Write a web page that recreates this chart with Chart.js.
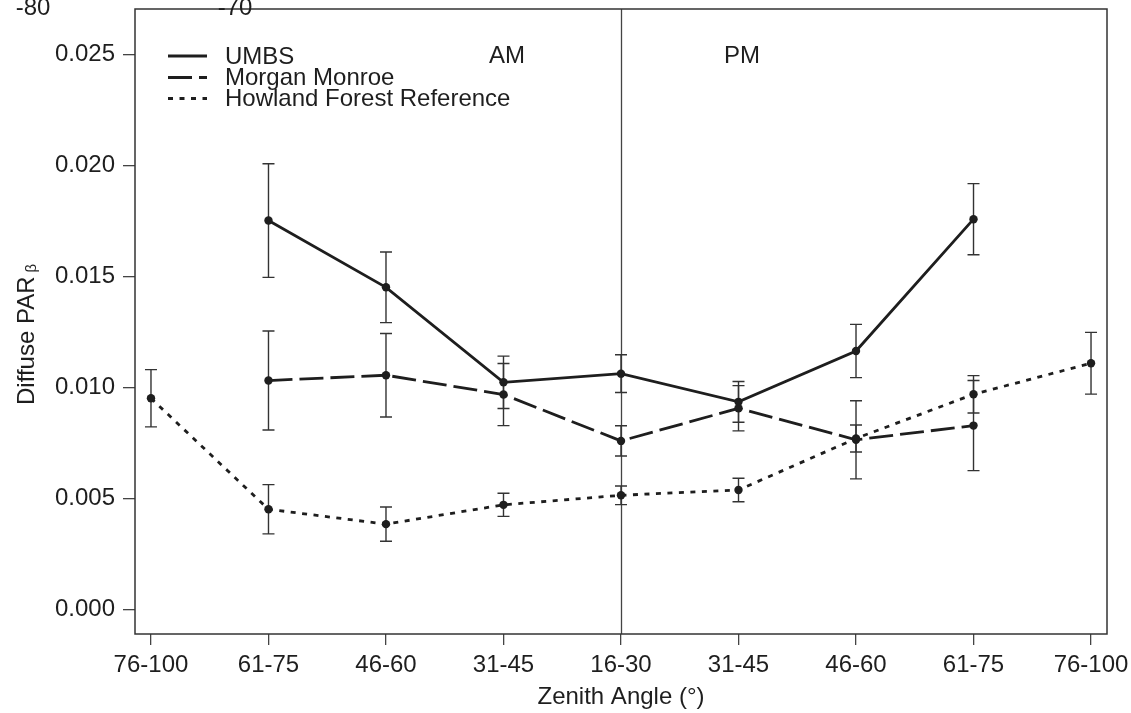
<!DOCTYPE html>
<html>
<head>
<meta charset="utf-8">
<script src="https://cdn.jsdelivr.net/npm/chart.js@4.4.1/dist/chart.umd.min.js"></script>
<style>
  body { margin: 0; background: #fff; }
  canvas { display: block; }
</style>
</head>
<body>
<canvas id="myChart" width="1131" height="713"></canvas>
<script>
// zenith angle classes, morning -> noon -> afternoon
const categories = ['76-100', '61-75', '46-60', '31-45', '16-30', '31-45', '46-60', '61-75', '76-100'];
const yTickValues = [0, 0.005, 0.010, 0.015, 0.020, 0.025];

const umbs       = [null, 0.01753, 0.01452, 0.01024, 0.01063, 0.00936, 0.01165, 0.01759, null];
const umbsErr    = [null, 0.00256, 0.00159, 0.00118, 0.00085, 0.00092, 0.00120, 0.00160, null];
const morgan     = [null, 0.01032, 0.01056, 0.00969, 0.00760, 0.00907, 0.00765, 0.00829, null];
const morganErr  = [null, 0.00223, 0.00188, 0.00140, 0.00068, 0.00102, 0.00176, 0.00203, null];
const howland    = [0.00952, 0.00452, 0.00385, 0.00472, 0.00515, 0.00539, 0.00771, 0.00970, 0.01110];
const howlandErr = [0.00129, 0.00111, 0.00077, 0.00052, 0.00042, 0.00053, 0.00061, 0.00084, 0.00139];

const FONT = '"Liberation Sans", Arial, Helvetica, sans-serif';
const FS = 24;
const INK = '#1e1e1e';

function toPoints(vals, errs) {
  let out = [];
  vals.forEach(function (v, i) {
    if (v !== null) out.push({ x: i, y: v, err: errs[i] });
  });
  return out;
}

function series(label, vals, errs, dash) {
  return {
    label: label,
    data: toPoints(vals, errs),
    borderColor: INK,
    backgroundColor: INK,
    borderWidth: 2.8,
    borderDash: dash,
    borderCapStyle: 'butt',
    pointRadius: 4.2,
    pointHoverRadius: 4.2,
    pointBackgroundColor: INK,
    pointBorderWidth: 0,
    tension: 0,
    fill: false
  };
}

// error bars, AM/PM divider, box, legend and loose labels
const extras = {
  id: 'extras',
  beforeDatasetsDraw: function (chart) {
    const ctx = chart.ctx, xs = chart.scales.x, ys = chart.scales.y, a = chart.chartArea;
    ctx.save();
    // noon divider
    ctx.strokeStyle = '#444';
    ctx.lineWidth = 1.3;
    ctx.beginPath();
    ctx.moveTo(Math.round(xs.getPixelForValue(4)) + 0.5, a.top);
    ctx.lineTo(Math.round(xs.getPixelForValue(4)) + 0.5, a.bottom);
    ctx.stroke();
    // error bars
    ctx.strokeStyle = '#333';
    ctx.lineWidth = 1.4;
    chart.data.datasets.forEach(function (ds) {
      ds.data.forEach(function (p) {
        const px = xs.getPixelForValue(p.x);
        const top = ys.getPixelForValue(p.y + p.err);
        const bot = ys.getPixelForValue(p.y - p.err);
        ctx.beginPath();
        ctx.moveTo(px, top); ctx.lineTo(px, bot);
        ctx.moveTo(px - 6, top); ctx.lineTo(px + 6, top);
        ctx.moveTo(px - 6, bot); ctx.lineTo(px + 6, bot);
        ctx.stroke();
      });
    });
    ctx.restore();
  },
  afterDraw: function (chart) {
    const ctx = chart.ctx, a = chart.chartArea;
    ctx.save();
    // plot box
    ctx.strokeStyle = '#333';
    ctx.lineWidth = 1.5;
    ctx.strokeRect(a.left, a.top, a.right - a.left, a.bottom - a.top);

    ctx.fillStyle = INK;
    ctx.font = FS + 'px ' + FONT;
    ctx.textBaseline = 'middle';
    ctx.textAlign = 'center';
    ctx.fillText('AM', 507, 56);
    ctx.fillText('PM', 742, 56);

    // stray labels clipped at the top edge
    ctx.textBaseline = 'alphabetic';
    ctx.fillText('-80', 33, 15);
    ctx.fillText('-70', 235, 15);

    // legend
    const rows = [56, 77.5, 98.5];
    ctx.textAlign = 'left';
    ctx.textBaseline = 'middle';
    chart.data.datasets.forEach(function (ds, i) {
      ctx.strokeStyle = INK;
      ctx.lineWidth = 2.8;
      ctx.lineCap = 'butt';
      ctx.setLineDash(ds.borderDash || []);
      ctx.beginPath();
      ctx.moveTo(168, rows[i]);
      ctx.lineTo(207, rows[i]);
      ctx.stroke();
      ctx.setLineDash([]);
      ctx.fillText(ds.label, 225, rows[i] + 1);
    });

    // y title with subscript beta
    ctx.translate(27, 405);
    ctx.rotate(-Math.PI / 2);
    ctx.textAlign = 'left';
    ctx.textBaseline = 'middle';
    ctx.font = FS + 'px ' + FONT;
    ctx.fillText('Diffuse PAR', 0, 0);
    const w = ctx.measureText('Diffuse PAR').width;
    ctx.font = '15px ' + FONT;
    ctx.fillText('\u03B2', w + 4, 5);
    ctx.restore();
  }
};

const ctx = document.getElementById('myChart').getContext('2d');
const myChart = new Chart(ctx, {
  type: 'line',
  data: {
    datasets: [
      series('UMBS', umbs, umbsErr, []),
      series('Morgan Monroe', morgan, morganErr, [24, 7]),
      series('Howland Forest Reference', howland, howlandErr, [5, 6.5])
    ]
  },
  plugins: [extras],
  options: {
    responsive: false,
    animation: false,
    events: [],
    layout: { padding: { top: 9, right: 24, left: 0, bottom: 0 } },
    plugins: { legend: { display: false }, tooltip: { enabled: false } },
    scales: {
      x: {
        type: 'linear',
        min: -0.136,
        max: 8.136,
        afterBuildTicks: function (s) { s.ticks = categories.map(function (c, i) { return { value: i }; }); },
        afterFit: function (s) { s.height = 79; s.paddingLeft = 0; s.paddingRight = 0; },
        ticks: {
          autoSkip: false, maxRotation: 0,
          color: INK, padding: 6,
          font: { family: FONT, size: FS },
          callback: function (v) { return categories[v]; }
        },
        grid: { drawOnChartArea: false, drawTicks: true, tickLength: 11, color: '#444', lineWidth: 1.3 },
        border: { display: false },
        title: {
          display: true, text: 'Zenith Angle (\u00B0)', color: INK,
          font: { family: FONT, size: FS }, padding: { top: 0, bottom: 1 }
        }
      },
      y: {
        type: 'linear',
        min: -0.0011,
        max: 0.02706,
        afterBuildTicks: function (s) { s.ticks = yTickValues.map(function (v) { return { value: v }; }); },
        afterFit: function (s) { s.width = 135; s.paddingTop = 0; s.paddingBottom = 0; },
        ticks: {
          color: INK, padding: 8,
          font: { family: FONT, size: FS },
          callback: function (v) { return v.toFixed(3); }
        },
        grid: { drawOnChartArea: false, drawTicks: true, tickLength: 12, color: '#444', lineWidth: 1.3 },
        border: { display: false }
      }
    }
  }
});
</script>
</body>
</html>
